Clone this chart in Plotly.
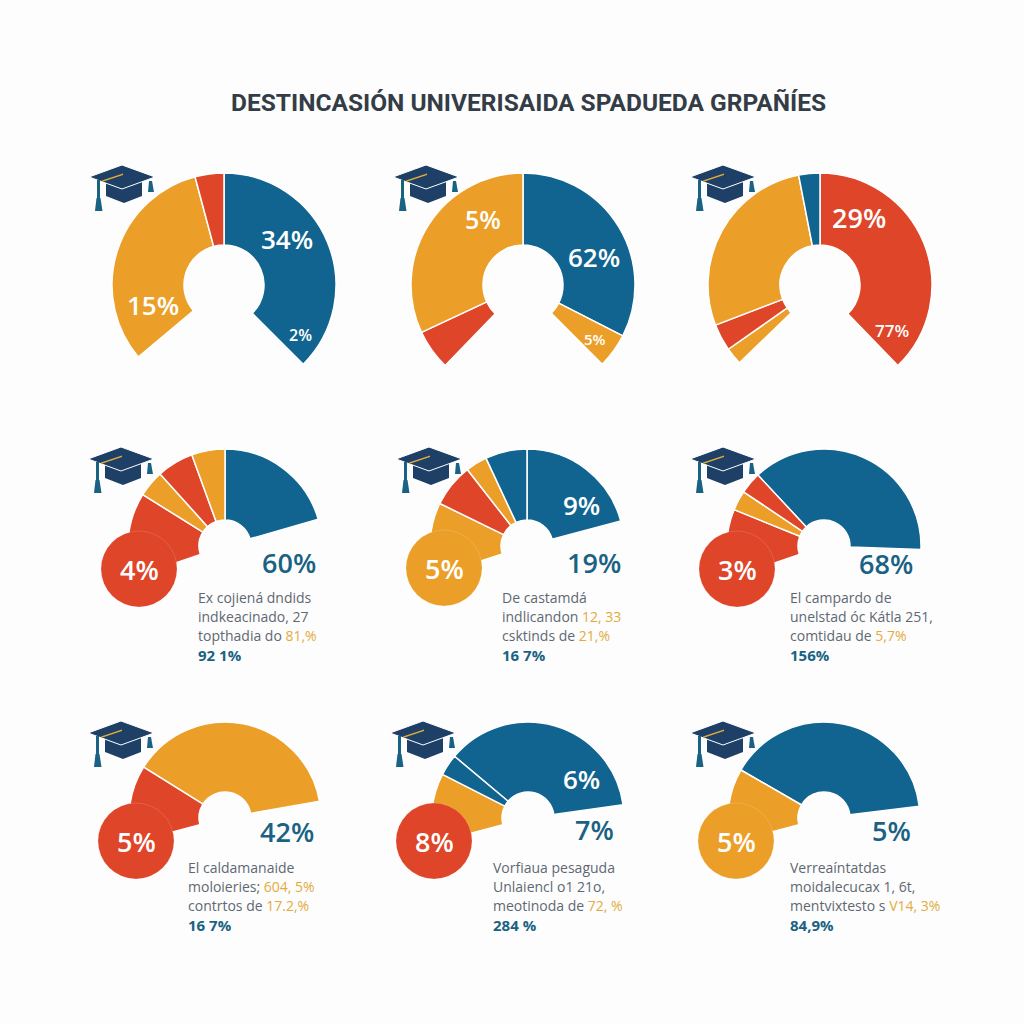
import plotly.graph_objects as go

BLUE = "#10648f"
ORANGE = "#eb9f28"
RED = "#de4529"
NAVY = "#1e3f66"
TEAL = "#1a6283"
GOLD = "#e3ab3c"
GREY = "#5f6872"
COLORS = {"b": BLUE, "o": ORANGE, "r": RED, "-": "rgba(0,0,0,0)"}

title = "DESTINCASIÓN UNIVERISAIDA SPADUEDA GRPAÑÍES"

# slices of each half ring, degrees clockwise, "-" is the empty part
kinds_1 = ["b", "-", "o", "r"]
arcs_1 = [135, 95, 115, 15]
kinds_2 = ["b", "o", "-", "r", "o"]
arcs_2 = [117, 18, 89, 21, 115]
kinds_3 = ["r", "-", "o", "r", "o", "b"]
arcs_3 = [136, 90, 9, 14, 100, 11]
kinds_4 = ["b", "-", "r", "o", "r", "o"]
arcs_4 = [74, 177, 51, 16, 22, 20]
kinds_5 = ["b", "-", "o", "r", "o", "b"]
arcs_5 = [75, 177, 44, 26, 13, 25]
kinds_6 = ["b", "-", "r", "o", "r"]
arcs_6 = [135, 159, 41, 12, 13]
kinds_7 = ["o", "-", "r"]
arcs_7 = [138, 175, 47]
kinds_8 = ["b", "-", "o", "b"]
arcs_8 = [132, 173, 42, 13]
kinds_9 = ["b", "-", "o"]
arcs_9 = [143, 172, 45]

all_kinds = [kinds_1, kinds_2, kinds_3, kinds_4, kinds_5, kinds_6, kinds_7, kinds_8, kinds_9]
all_arcs = [arcs_1, arcs_2, arcs_3, arcs_4, arcs_5, arcs_6, arcs_7, arcs_8, arcs_9]
rotations = [0, 0, 0, 0, 0, -43, -58, -50, -60]

# centre x, centre y, outer radius, inner radius in pixels
rings = [
    (224, 285, 112, 40), (523, 285, 112, 40), (820, 285, 112, 40),
    (225, 546, 97, 26), (527, 546, 97, 26), (824, 546, 97, 26),
    (225, 818, 96, 26), (528, 818, 96, 26), (824, 818, 96, 26),
]

# text on the top row slices
ring_labels = ["34%", "2%", "15%", "5%", "62%", "5%", "29%", "77%"]
ring_label_x = [287, 300, 153, 483, 594, 595, 859, 892]
ring_label_y = [239, 335, 305, 219, 257, 339, 217, 330]
ring_label_size = [26, 16, 26, 25, 26, 15, 27, 17]

# circles of the lower rows
bubble_labels = ["4%", "5%", "3%", "5%", "8%", "5%"]
bubble_kinds = ["r", "o", "r", "r", "r", "o"]
bubble_x = [139, 444, 737, 136, 434, 736]
bubble_y = [569, 568, 569, 841, 841, 841]

big_labels = ["60%", "19%", "68%", "42%", "7%", "5%"]
big_x = [289, 594, 886, 287, 594, 891]
big_y = [562, 562, 563, 831, 829, 830]
inner_labels = ["9%", "6%"]
inner_x = [581, 581]
inner_y = [505, 779]

# small notes, grey / coloured part of each line
note_1 = [("Ex cojiená dndids", ""), ("indkeacinado, 27", ""), ("topthadia do ", "81,%"), ("", "92 1%")]
note_2 = [("De castamdá", ""), ("indlicandon ", "12, 33"), ("csktinds de ", "21,%"), ("", "16 7%")]
note_3 = [("El campardo de", ""), ("unelstad óc Kátla 251,", ""), ("comtidau de ", "5,7%"), ("", "156%")]
note_4 = [("El caldamanaide", ""), ("moloieries; ", "604, 5%"), ("contrtos de ", "17.2,%"), ("", "16 7%")]
note_5 = [("Vorfiaua pesaguda", ""), ("Unlaiencl o1 21o,", ""), ("meotinoda de ", "72, %"), ("", "284 %")]
note_6 = [("Verreaíntatdas", ""), ("moidalecucax 1, 6t,", ""), ("mentvixtesto s ", "V14, 3%"), ("", "84,9%")]
notes = [note_1, note_2, note_3, note_4, note_5, note_6]
note_x = [196, 500, 788, 186, 491, 788]
note_y = [597, 597, 597, 867, 867, 867]

cap_x = [122, 426, 723, 121, 429, 723, 121, 423, 723]
cap_y = [177, 177, 177, 459, 459, 459, 733, 733, 733]

SIZE = 1024


def px(x):
    return x / SIZE


def py(y):
    return 1 - y / SIZE


def poly(points, color, cx, cy, line=None, width=1):
    path = "M " + " L ".join(f"{px(cx + a):.5f},{py(cy + b):.5f}" for a, b in points) + " Z"
    return dict(type="path", xref="paper", yref="paper", path=path, fillcolor=color,
                line=dict(color=line or color, width=width if line else 0))


def cap(cx, cy):
    out = []
    out.append(poly([(-16, 4), (0, 10), (20, 4), (20, 19), (2, 26), (-16, 19)], NAVY, cx, cy))
    out.append(poly([(-33, 0), (0, -12), (33, 0), (0, 12)], NAVY, cx, cy, line="white"))
    out.append(poly([(-20, 3.5), (1, -3.5), (1, -2), (-20, 5)], GOLD, cx, cy))
    out.append(poly([(-25, 3), (-22, 3), (-22, 22), (-25, 22)], TEAL, cx, cy))
    out.append(poly([(-25.5, 21), (-21.5, 21), (-19.5, 34), (-27, 34)], TEAL, cx, cy))
    out.append(poly([(27, 4), (30, 4), (32, 15), (26, 15)], TEAL, cx, cy))
    return out


fig = go.Figure()
shapes = []
annotations = []

for kinds, arcs, rot, (cx, cy, r, hole) in zip(all_kinds, all_arcs, rotations, rings):
    fig.add_trace(go.Pie(
        values=arcs,
        sort=False,
        direction="clockwise",
        rotation=rot,
        hole=hole / r,
        textinfo="none",
        hoverinfo="skip",
        showlegend=False,
        marker=dict(colors=[COLORS[k] for k in kinds],
                    line=dict(color="white", width=[0 if k == "-" else 1.5 for k in kinds])),
        domain=dict(x=[px(cx - r), px(cx + r)], y=[py(cy + r), py(cy - r)]),
    ))


def label(text, x, y, size, color, weight=600):
    annotations.append(dict(text=text, x=px(x), y=py(y), xref="paper", yref="paper",
                            showarrow=False, xanchor="center", yanchor="middle",
                            font=dict(family="Open Sans", size=size, color=color, weight=weight)))


for t, x, y, s in zip(ring_labels, ring_label_x, ring_label_y, ring_label_size):
    label(t, x, y, s, "white")
for t, x, y in zip(inner_labels, inner_x, inner_y):
    label(t, x, y, 26, "white")
for t, x, y in zip(big_labels, big_x, big_y):
    label(t, x, y, 27, TEAL)

for t, k, x, y in zip(bubble_labels, bubble_kinds, bubble_x, bubble_y):
    shapes.append(dict(type="circle", xref="paper", yref="paper",
                       x0=px(x - 38), x1=px(x + 38), y0=py(y + 38), y1=py(y - 38),
                       fillcolor=COLORS[k], line=dict(color="rgba(255,255,255,0.15)", width=1)))
    label(t, x, y, 27, "white")

for note, x, y0 in zip(notes, note_x, note_y):
    for i, (grey, col) in enumerate(note):
        if i == 3:
            txt = f"<b>{col}</b>"
            color = TEAL
            size = 15
        else:
            txt = grey
            if col:
                txt += f'<span style="color:{GOLD}">{col}</span>'
            color = GREY
            size = 14
        annotations.append(dict(text=txt, x=px(x), y=py(y0 + i * 19.2), xref="paper", yref="paper",
                                showarrow=False, xanchor="left", yanchor="middle",
                                font=dict(family="Open Sans", size=size, color=color)))

for x, y in zip(cap_x, cap_y):
    shapes.extend(cap(x, y))

annotations.append(dict(text=f"<b>{title}</b>", x=px(528), y=py(102), xref="paper", yref="paper",
                        showarrow=False, xanchor="center", yanchor="middle",
                        font=dict(family="Roboto", size=24.5, color="#343d47")))

fig.update_layout(width=SIZE, height=SIZE, margin=dict(l=0, r=0, t=0, b=0),
                  paper_bgcolor="#fdfdfd", plot_bgcolor="#fdfdfd",
                  shapes=shapes, annotations=annotations)
# the page adds its own body margin, take it off so the figure fills the window
fig.write_html("out.html", config={"displayModeBar": False},
               post_script="document.body.style.margin='0';document.body.style.overflow='hidden';")
